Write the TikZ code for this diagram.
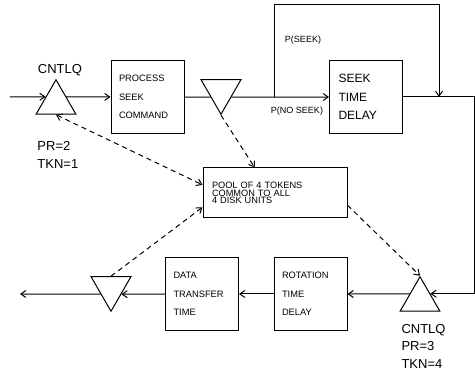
\documentclass[tikz,border=0pt]{standalone}
\usepackage{fontspec}
\setmainfont{Liberation Sans}
\usetikzlibrary{shapes.geometric,calc,arrows.meta}
\newcommand{\drawtoken}{\draw[dash pattern=on 5pt off 4pt]}
\newcommand{\midedge}[3]{\coordinate (#1) at ($(#2)!.5!(#3)$);}
\tikzset{
  tri/.style={draw,regular polygon,regular polygon sides=3,minimum size=46pt,inner sep=0pt},
  tridown/.style={tri,regular polygon rotate=180},
  box/.style={draw,minimum width=73pt,minimum height=73pt,inner xsep=8pt,text width=57pt,
    align=left,font=\fontsize{9.3}{18.5}\selectfont},
  bigbox/.style={box,inner xsep=9pt,text width=55pt,font=\fontsize{12}{18.5}\selectfont},
  poolbox/.style={draw,minimum width=144pt,minimum height=50pt,inner xsep=9pt,text width=126pt,
    align=left,font=\fontsize{9.2}{7.8}\selectfont},
  qlabel/.style={align=left,inner sep=0pt,font=\fontsize{13}{17.5}\selectfont},
  plabel/.style={inner sep=0pt,font=\fontsize{9}{10}\selectfont}
}

\begin{document}
\begin{tikzpicture}[x=1pt,y=-1pt,line width=1pt,>={Straight Barb[length=5pt,width=7pt]}]
\useasboundingbox (0,0) rectangle (475,371);
% queues
\node[tri] (t1) at (56,102.75) {};
\node[tridown] (t2) at (221,91.25) {};
\node[tri] (t3) at (420,299.75) {};
\node[tridown] (t4) at (111,288.25) {};
\midedge{t1w}{t1.corner 2}{t1.corner 1}\midedge{t1e}{t1.corner 3}{t1.corner 1}
\midedge{t2w}{t2.corner 3}{t2.corner 1}\midedge{t2e}{t2.corner 2}{t2.corner 1}
\midedge{t3w}{t3.corner 2}{t3.corner 1}\midedge{t3e}{t3.corner 3}{t3.corner 1}
\midedge{t4w}{t4.corner 3}{t4.corner 1}\midedge{t4e}{t4.corner 2}{t4.corner 1}
% servers
\node[box] (proc) at (147.5,97) {PROCESS\\SEEK\\COMMAND};
\node[bigbox] (seek) at (366,97) {SEEK\\TIME\\DELAY};
\node[box] (rot) at (310.5,294) {ROTATION\\TIME\\DELAY};
\node[box] (data) at (202,294) {DATA\\TRANSFER\\TIME};
\node[poolbox] (pool) at (275,193) {POOL OF 4 TOKENS\\COMMON TO ALL\\4 DISK UNITS};
% labels
\node[qlabel] (q1) at (60,70) {CNTLQ};
\node[qlabel,anchor=west] (q1p) at (37,155) {PR=2\\TKN=1};
\node[qlabel,anchor=west] (q3) at (401,346) {CNTLQ\\PR=3\\TKN=4};
\node[plabel] (ps) at (303,40) {P(SEEK)};
\node[plabel] (pns) at (297,111) {P(NO SEEK)};
% flow
\coordinate (in) at (10,97);
\coordinate (out) at (20,294);
\coordinate (split) at (274,97);
\coordinate (loop) at (439,5);
\coordinate (merge) at (439,97);
\coordinate (ne) at (474,97);
\draw[->] (in) -- (t1w);
\draw[->] (t1e) -- (proc.west);
\draw (proc.east) -- (t2w);
\draw[->] (t2e) -- (seek.west);
\draw[->] (split) |- (loop) -- (merge);
\draw[->] (seek.east) -- (ne) |- (t3e);
\draw[->] (t3w) -- (rot.east);
\draw[->] (rot.west) -- (data.east);
\draw[->] (data.west) -- (t4e);
\draw[->] (t4w) -- (out);
% tokens
\coordinate (pw1) at ($(pool.north west)!.34!(pool.south west)$);
\coordinate (pw2) at ($(pool.north west)!.78!(pool.south west)$);
\coordinate (pn) at ($(pool.north west)!.36!(pool.north east)$);
\coordinate (pe) at ($(pool.north east)!.74!(pool.south east)$);
\drawtoken[<->] (t1.south) -- (pw1);
\drawtoken[->] (t2.corner 1) -- (pn);
\drawtoken[->] (pe) -- (t3.corner 1);
\drawtoken[->] (t4.north) -- (pw2);
\end{tikzpicture}
\end{document}
